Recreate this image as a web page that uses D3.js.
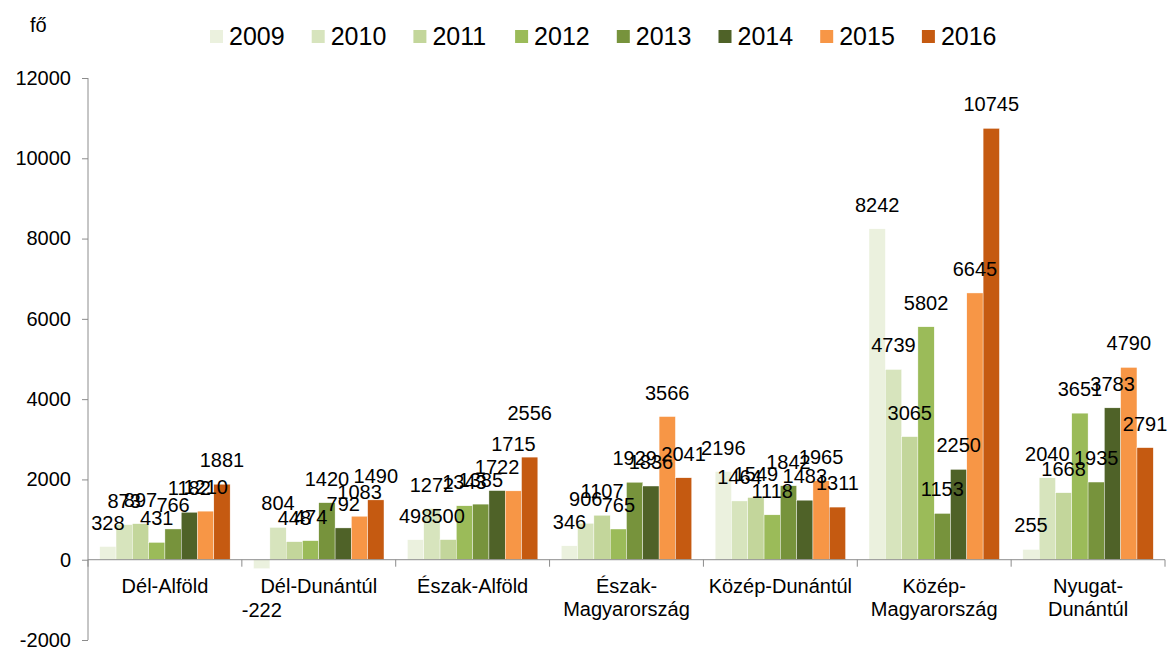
<!DOCTYPE html>
<html>
<head>
<meta charset="utf-8">
<script src="https://cdn.jsdelivr.net/npm/d3@7"></script>
<style>
  body { margin: 0; background: #fff; }
  svg text { font-family: "Liberation Sans", Arial, sans-serif; fill: #000; }
</style>
</head>
<body>
<div id="chart"></div>
<script>
// regions (x categories), two-line names split with "\n"
const regions = ["Dél-Alföld", "Dél-Dunántúl", "Észak-Alföld", "Észak-\nMagyarország",
                 "Közép-Dunántúl", "Közép-\nMagyarország", "Nyugat-\nDunántúl"];
const years = ["2009", "2010", "2011", "2012", "2013", "2014", "2015", "2016"];

// values per region, one entry per year
const delAlfold       = [328, 873, 897, 431, 766, 1182, 1210, 1881];
const delDunantul     = [-222, 804, 448, 474, 1420, 792, 1083, 1490];
const eszakAlfold     = [498, 1272, 500, 1343, 1385, 1722, 1715, 2556];
const eszakMagyar     = [346, 906, 1107, 765, 1929, 1836, 3566, 2041];
const kozepDunantul   = [2196, 1464, 1549, 1118, 1842, 1483, 1965, 1311];
const kozepMagyar     = [8242, 4739, 3065, 5802, 1153, 2250, 6645, 10745];
const nyugatDunantul  = [255, 2040, 1668, 3651, 1935, 3783, 4790, 2791];

const yTicks = [-2000, 0, 2000, 4000, 6000, 8000, 10000, 12000];

const colors = ["#EBF1DE", "#D7E4BD", "#C3D69B", "#9BBB59", "#77933C", "#4F6228", "#F79646", "#C55A11"];

// labels that were moved by hand in the original chart
const labelNudge = { "2|6": -23, "2|7": -20, "1|0": 17 };

const values = [delAlfold, delDunantul, eszakAlfold, eszakMagyar, kozepDunantul, kozepMagyar, nyugatDunantul];

const W = 1169, H = 647;
const margin = {top: 78, right: 4, bottom: 7, left: 88};

const svg = d3.select("#chart").append("svg")
    .attr("width", W).attr("height", H);

// scales
const x = d3.scaleBand().domain(d3.range(regions.length))
    .range([margin.left, W - margin.right]).padding(0);
const xi = d3.scaleBand().domain(years)
    .range([0, x.bandwidth()]).paddingInner(0).paddingOuter(0.72);
const y = d3.scaleLinear().domain([-2000, 12000])
    .range([H - margin.bottom, margin.top]);

const axisColor = "#8c8c8c";

// y axis
const yAxis = svg.append("g")
    .attr("transform", "translate(" + margin.left + ",0)")
    .call(d3.axisLeft(y).tickValues(yTicks).tickSize(6).tickPadding(11).tickFormat(d => String(d)));
yAxis.select(".domain").attr("stroke", axisColor).attr("d", "M0," + y(-2000) + "V" + y(12000));
yAxis.selectAll(".tick line").attr("stroke", axisColor);
yAxis.selectAll(".tick text").attr("font-size", 20).attr("font-family", "Liberation Sans, Arial");

// bars
const groups = svg.append("g").selectAll("g")
    .data(values)
    .join("g")
    .attr("transform", (d, i) => "translate(" + x(i) + ",0)");

groups.selectAll("rect")
    .data(d => d.map((v, j) => ({v, j})))
    .join("rect")
    .attr("x", d => xi(years[d.j]))
    .attr("width", xi.bandwidth())
    .attr("y", d => y(Math.max(0, d.v)))
    .attr("height", d => Math.abs(y(d.v) - y(0)))
    .attr("fill", d => colors[d.j])
    .attr("stroke", "#fff")
    .attr("stroke-width", 0.4);

// x axis (at zero) with ticks between categories
const xAxisG = svg.append("g");
xAxisG.append("line")
    .attr("x1", margin.left).attr("x2", W - margin.right)
    .attr("y1", y(0)).attr("y2", y(0))
    .attr("stroke", axisColor);
xAxisG.selectAll("line.tk")
    .data(d3.range(regions.length + 1))
    .join("line")
    .attr("class", "tk")
    .attr("x1", i => i < regions.length ? x(i) : x(i - 1) + x.bandwidth())
    .attr("x2", i => i < regions.length ? x(i) : x(i - 1) + x.bandwidth())
    .attr("y1", y(0)).attr("y2", y(0) + 7)
    .attr("stroke", axisColor);

// category labels
svg.append("g").selectAll("text")
    .data(regions)
    .join("text")
    .attr("x", (d, i) => x(i) + x.bandwidth() / 2)
    .attr("y", y(0) + 33)
    .attr("text-anchor", "middle")
    .attr("font-size", 20)
    .each(function(d) {
        const parts = d.split("\n");
        d3.select(this).selectAll("tspan")
            .data(parts)
            .join("tspan")
            .attr("x", d3.select(this).attr("x"))
            .attr("dy", (p, k) => k === 0 ? 0 : 23)
            .text(p => p);
    });

// data labels
groups.each(function(row, i) {
    d3.select(this).selectAll("text")
        .data(row.map((v, j) => ({v, j})))
        .join("text")
        .attr("x", d => xi(years[d.j]) + xi.bandwidth() / 2)
        .attr("y", d => {
            const nudge = labelNudge[i + "|" + d.j] || 0;
            return d.v >= 0 ? y(d.v) - 17 + nudge : y(d.v) + 31 + nudge;
        })
        .attr("text-anchor", "middle")
        .attr("font-size", 20)
        .text(d => d.v);
});

// unit label
svg.append("text")
    .attr("x", 30).attr("y", 32)
    .attr("font-size", 20)
    .text("fő");

// legend
const legend = svg.append("g").selectAll("g")
    .data(years)
    .join("g")
    .attr("transform", (d, i) => "translate(" + (210 + i * 101.7) + ",0)");
legend.append("rect")
    .attr("x", 0).attr("y", 30)
    .attr("width", 13).attr("height", 13)
    .attr("fill", (d, i) => colors[i]);
legend.append("text")
    .attr("x", 19).attr("y", 45)
    .attr("font-size", 25)
    .text(d => d);
</script>
</body>
</html>
